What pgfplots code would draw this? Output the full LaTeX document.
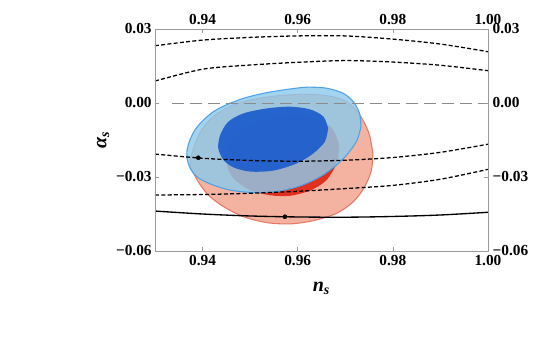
\documentclass[border=0pt]{standalone}
\usepackage{fontspec}
\setmainfont{Liberation Serif}
\usepackage{pgfplots}
\pgfplotsset{compat=1.18}

\definecolor{redout}{HTML}{F4B3A0}
\definecolor{redoutedge}{HTML}{E27A66}
\definecolor{redin}{HTML}{E2301F}
\definecolor{blueout}{HTML}{8DC9EB}
\definecolor{blueoutedge}{HTML}{4FA2E6}
\definecolor{bluein}{HTML}{1F5FCC}
\definecolor{frame}{HTML}{9A9A9A}

\pgfplotsset{
  frameaxis/.style={
    scale only axis,
    width=249.75pt, height=166.5pt,
    xmin=0.93, xmax=1.00, ymin=-0.06, ymax=0.03,
    scaled ticks=false,
    xtick={0.94,0.96,0.98,1.00},
    xticklabels={0.94,0.96,0.98,1.00},
    ytick={-0.06,-0.03,0,0.03},
    yticklabels={−0.06,−0.03,0.00,0.03},
    tick align=inside,
    major tick length=3pt,
    tick style={frame, line width=0.5pt},
    axis line style={frame, line width=0.5pt},
    tick label style={font=\fontsize{11.5}{13}\selectfont\bfseries},
    xticklabel style={yshift=0pt},
    yticklabel style={xshift=1pt},
  },
}

\begin{document}
\begin{tikzpicture}
\path[use as bounding box] (-116.25pt,-64.5pt) rectangle (286.5pt,188.25pt);

\begin{axis}[
    frameaxis,
    xlabel={\textbf{\textit{n\textsubscript{s}}}},
    ylabel={\textbf{\textit{α\textsubscript{s}}}},
    label style={font=\fontsize{15}{17}\selectfont},
    xlabel style={at={(axis description cs:0.5,-0.167)}, anchor=center},
    ylabel style={at={(axis description cs:-0.156,0.5)}, anchor=center},
]

% red, outer contour
\addplot[fill=redout, draw=redoutedge, line width=0.8pt, smooth] coordinates {
  (0.9758,-0.0204) (0.9755,-0.0272) (0.9741,-0.0339) (0.9717,-0.0400)
  (0.9682,-0.0447) (0.9633,-0.0477) (0.9584,-0.0490) (0.9535,-0.0485)
  (0.9486,-0.0461) (0.9444,-0.0420) (0.9412,-0.0373) (0.9391,-0.0319)
  (0.9374,-0.0251) (0.9381,-0.0184) (0.9398,-0.0109) (0.9426,-0.0049)
  (0.9465,-0.0008) (0.9507,0.0015) (0.9563,0.0030) (0.9619,0.0035)
  (0.9661,0.0030) (0.9696,0.0012) (0.9720,-0.0022) (0.9737,-0.0069)
  (0.9751,-0.0130) (0.9758,-0.0204)
};

% red, inner contour
\addplot[fill=redin, draw=none, smooth] coordinates {
  (0.9687,-0.0170) (0.9685,-0.0224) (0.9675,-0.0272) (0.9657,-0.0319)
  (0.9626,-0.0355) (0.9584,-0.0376) (0.9542,-0.0374) (0.9500,-0.0353)
  (0.9468,-0.0312) (0.9453,-0.0265) (0.9451,-0.0217) (0.9458,-0.0157)
  (0.9479,-0.0116) (0.9514,-0.0082) (0.9563,-0.0059) (0.9612,-0.0055)
  (0.9650,-0.0072) (0.9675,-0.0109) (0.9687,-0.0170)
};

% blue, outer contour
\addplot[fill=blueout, fill opacity=0.82, draw=blueoutedge, line width=0.8pt, smooth] coordinates {
  (0.9733,-0.0096) (0.9725,-0.0150) (0.9706,-0.0204) (0.9682,-0.0251)
  (0.9647,-0.0299) (0.9605,-0.0336) (0.9556,-0.0359) (0.9507,-0.0363)
  (0.9458,-0.0353) (0.9416,-0.0328) (0.9388,-0.0299) (0.9374,-0.0265)
  (0.9368,-0.0231) (0.9367,-0.0197) (0.9372,-0.0157) (0.9384,-0.0109)
  (0.9402,-0.0069) (0.9426,-0.0031) (0.9458,-0.0001) (0.9493,0.0023)
  (0.9535,0.0042) (0.9577,0.0055) (0.9619,0.0064) (0.9661,0.0060)
  (0.9696,0.0039) (0.9717,0.0005) (0.9730,-0.0042) (0.9733,-0.0096)
};

% blue, inner contour
\addplot[fill=bluein, fill opacity=0.95, draw=none, smooth] coordinates {
  (0.9664,-0.0103) (0.9657,-0.0157) (0.9633,-0.0204) (0.9598,-0.0245)
  (0.9549,-0.0274) (0.9500,-0.0278) (0.9465,-0.0261) (0.9444,-0.0231)
  (0.9433,-0.0184) (0.9437,-0.0130) (0.9454,-0.0076) (0.9486,-0.0042)
  (0.9535,-0.0022) (0.9584,-0.0015) (0.9626,-0.0026) (0.9654,-0.0055)
  (0.9664,-0.0103)
};

% reference line at zero
\addplot[frame!90!black, line width=0.5pt, dash pattern=on 9pt off 4.5pt] coordinates {
  (0.9335,0) (1.00,0)
};

% model curves
\addplot[black, line width=0.95pt, dash pattern=on 3pt off 1.7pt, smooth] coordinates {
  (0.93,0.0232) (0.94,0.0255) (0.95,0.0266) (0.96,0.0272) (0.97,0.0272)
  (0.98,0.0259) (0.99,0.0239) (1.00,0.0208)
};
\addplot[black, line width=0.95pt, dash pattern=on 3pt off 1.7pt, smooth] coordinates {
  (0.93,0.0089) (0.94,0.0137) (0.95,0.0154) (0.96,0.0165) (0.97,0.0172)
  (0.98,0.0166) (0.99,0.0153) (1.00,0.0131)
};
\addplot[black, line width=0.95pt, dash pattern=on 3pt off 1.7pt, smooth] coordinates {
  (0.93,-0.0207) (0.94,-0.0224) (0.95,-0.0233) (0.96,-0.0236) (0.97,-0.0232)
  (0.98,-0.0221) (0.99,-0.0200) (1.00,-0.0167)
};
\addplot[black, line width=0.95pt, dash pattern=on 3pt off 1.7pt, smooth] coordinates {
  (0.93,-0.0373) (0.94,-0.0371) (0.95,-0.0366) (0.96,-0.0358) (0.97,-0.0347)
  (0.98,-0.0334) (0.99,-0.0309) (1.00,-0.0269)
};
\addplot[black, line width=1pt, smooth] coordinates {
  (0.93,-0.0438) (0.94,-0.0450) (0.95,-0.0458) (0.96,-0.0462) (0.97,-0.0463)
  (0.98,-0.0460) (0.99,-0.0454) (1.00,-0.0443)
};
\addplot[only marks, mark=*, mark size=1.5pt, black] coordinates {
  (0.9391,-0.0222) (0.9573,-0.0461)
};
\end{axis}

% top and right tick labels
\begin{axis}[
    frameaxis,
    xticklabel pos=upper,
    yticklabel pos=right,
    xticklabel style={yshift=0pt},
    yticklabel style={xshift=-1pt},
]
\end{axis}
\end{tikzpicture}
\end{document}
